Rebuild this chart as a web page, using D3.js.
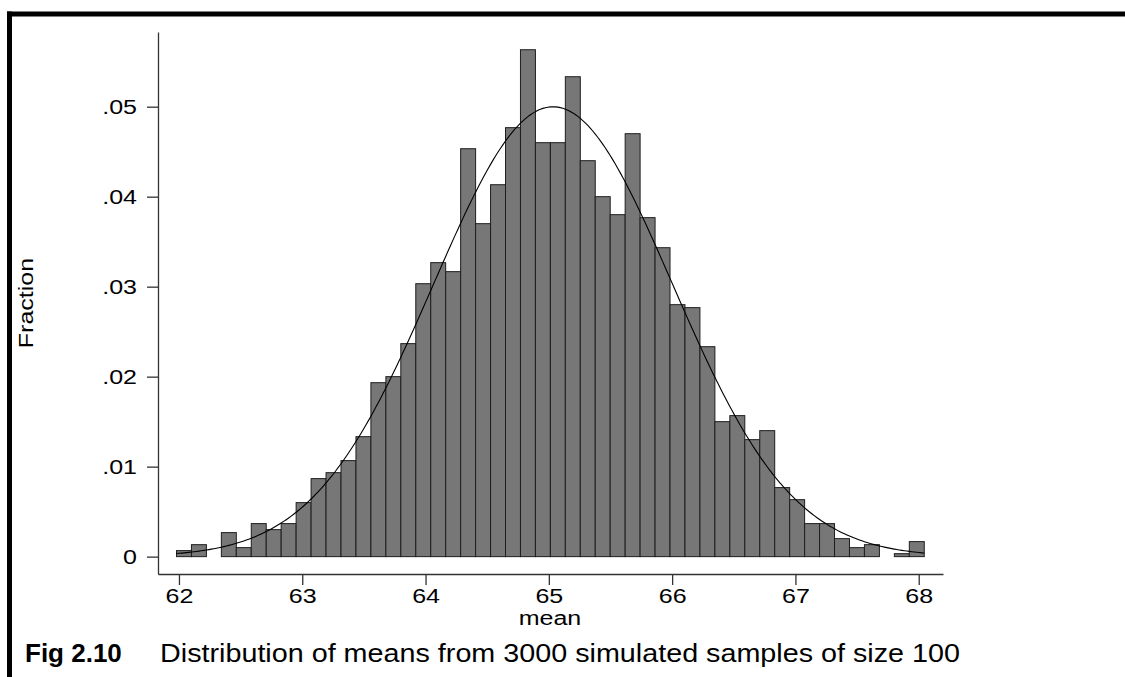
<!DOCTYPE html>
<html>
<head>
<meta charset="utf-8">
<script src="https://cdn.jsdelivr.net/npm/d3@7"></script>
<style>
    html, body { margin: 0; padding: 0; background: #fff; }
    text { font-family: "Liberation Sans", Arial, sans-serif; fill: #000; }
</style>
</head>
<body>
<svg id="chart" width="1125" height="677"></svg>
<script>
// fraction of the 3000 sample means in each of the 50 bins
var fractions = [
    0.00067, 0.00133, 0, 0.00267, 0.001, 0.00367, 0.003, 0.00367, 0.006, 0.00867,
    0.00933, 0.01067, 0.01333, 0.01933, 0.02, 0.02367, 0.03033, 0.03267, 0.03167, 0.04533,
    0.037, 0.04133, 0.04767, 0.05633, 0.046, 0.046, 0.05333, 0.044, 0.04, 0.038,
    0.047, 0.03767, 0.03433, 0.028, 0.02767, 0.02333, 0.015, 0.01567, 0.013, 0.014,
    0.00767, 0.00633, 0.00367, 0.00367, 0.002, 0.001, 0.00133, 0, 0.00033, 0.00167
];
var binMin = 61.98;
var binMax = 68.045;

// fitted normal overlay
var normMean = 65.034;
var normSd = 0.968;

var xTicks = [62, 63, 64, 65, 66, 67, 68];
var yTicks = [0, 0.01, 0.02, 0.03, 0.04, 0.05];
var yTickLabels = ['0', '.01', '.02', '.03', '.04', '.05'];

var xTitle = 'mean';
var yTitle = 'Fraction';
var captionBold = 'Fig 2.10';
var captionText = 'Distribution of means from 3000 simulated samples of size 100';

var svg = d3.select('#chart');

var x = d3.scaleLinear().domain([61.83, 68.197]).range([158, 943]);
var y = d3.scaleLinear().domain([-0.00193, 0.0583]).range([574, 32]);

var binWidth = (binMax - binMin) / fractions.length;
var bins = fractions.map(function (f, i) {
    return { x0: binMin + i * binWidth, x1: binMin + (i + 1) * binWidth, f: f };
});

// the graph text is wider than plain Arial
var stretch = 1.25;
function widen(sel) {
    sel.each(function () {
        var len = this.getComputedTextLength();
        d3.select(this)
            .attr('textLength', len * stretch)
            .attr('lengthAdjust', 'spacingAndGlyphs');
    });
}

// frame
svg.append('rect').attr('x', 7).attr('y', 11.5).attr('width', 1118).attr('height', 5).attr('fill', '#000');
svg.append('rect').attr('x', 7).attr('y', 11.5).attr('width', 5).attr('height', 666).attr('fill', '#000');

// bars
svg.append('g')
    .selectAll('rect')
    .data(bins.filter(function (b) { return b.f > 0; }))
    .enter()
    .append('rect')
    .attr('x', function (b) { return x(b.x0); })
    .attr('width', function (b) { return x(b.x1) - x(b.x0); })
    .attr('y', function (b) { return y(b.f); })
    .attr('height', function (b) { return y(0) - y(b.f); })
    .attr('fill', '#777777')
    .attr('stroke', '#1e1e1e')
    .attr('stroke-width', 1);

// normal curve, scaled to bin width
var curvePts = d3.range(0, 301).map(function (i) {
    var v = binMin + (binMax - binMin) * i / 300;
    var z = (v - normMean) / normSd;
    return [v, binWidth / (normSd * Math.sqrt(2 * Math.PI)) * Math.exp(-0.5 * z * z)];
});
svg.append('path')
    .datum(curvePts)
    .attr('fill', 'none')
    .attr('stroke', '#000')
    .attr('stroke-width', 1.1)
    .attr('d', d3.line().x(function (d) { return x(d[0]); }).y(function (d) { return y(d[1]); }));

// axes
var xAxis = svg.append('g')
    .attr('transform', 'translate(0,574)')
    .call(d3.axisBottom(x).tickValues(xTicks).tickSize(11).tickSizeOuter(0).tickPadding(4)
        .tickFormat(d3.format('d')));
var yAxis = svg.append('g')
    .attr('transform', 'translate(158,0)')
    .call(d3.axisLeft(y).tickValues(yTicks).tickSize(11).tickSizeOuter(0).tickPadding(10)
        .tickFormat(function (d, i) { return yTickLabels[i]; }));

[xAxis, yAxis].forEach(function (ax) {
    ax.select('.domain').attr('stroke', '#333').attr('stroke-width', 1.3);
    ax.selectAll('.tick line').attr('stroke', '#333').attr('stroke-width', 1.3);
    ax.selectAll('.tick text').attr('font-size', 20).attr('fill', '#000')
        .style('font-family', '"Liberation Sans", Arial, sans-serif')
        .call(widen);
});

svg.append('text')
    .attr('x', 550).attr('y', 625)
    .attr('text-anchor', 'middle')
    .attr('font-size', 20)
    .text(xTitle)
    .call(widen);

svg.append('text')
    .attr('transform', 'translate(33,303) rotate(-90)')
    .attr('text-anchor', 'middle')
    .attr('font-size', 20)
    .text(yTitle)
    .call(widen);

// caption
svg.append('text')
    .attr('x', 25).attr('y', 662)
    .attr('font-size', 26)
    .attr('font-weight', 'bold')
    .text(captionBold);
svg.append('text')
    .attr('x', 160).attr('y', 662)
    .attr('font-size', 26)
    .attr('textLength', 800)
    .attr('lengthAdjust', 'spacingAndGlyphs')
    .text(captionText);
</script>
</body>
</html>
